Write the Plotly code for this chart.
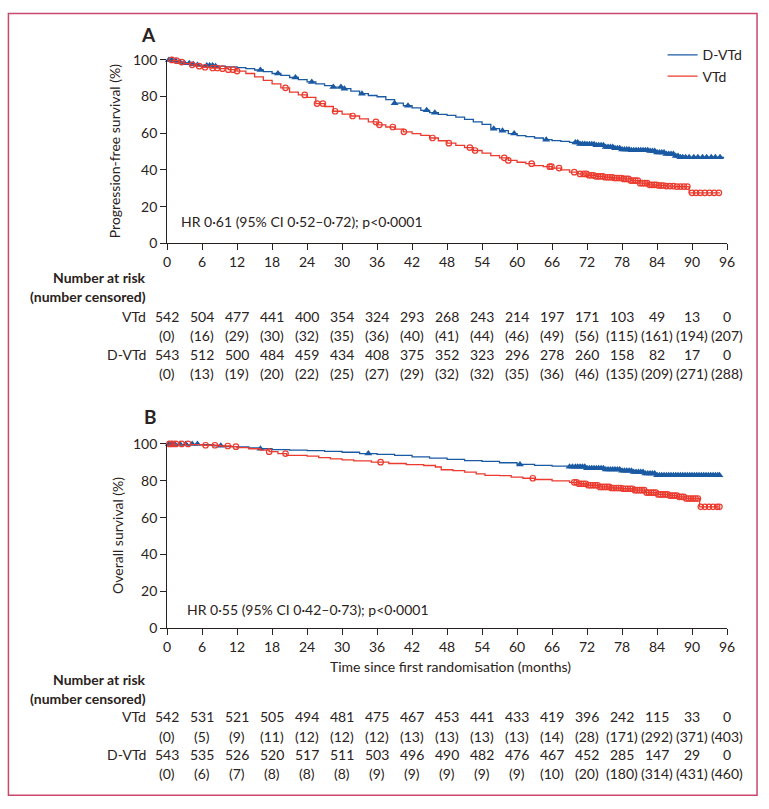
import numpy as np
import plotly.graph_objects as go

W, H = 769, 809
FONT = "Lato, Roboto, sans-serif"
TXT = "#2a2220"
BLUE = "#1a5aa3"
RED = "#ec3a2e"

ticks_x = [0, 6, 12, 18, 24, 30, 36, 42, 48, 54, 60, 66, 72, 78, 84, 90, 96]

# ---------------- Panel A: progression-free survival ----------------
pfs_dvtd_t = [0, 1, 2, 3, 4, 5, 6, 8, 10, 12, 13.5, 15, 16.5, 18, 19.5, 21, 22.5, 24, 25.5, 27, 28.5, 30,
              31.5, 33, 34.5, 36, 37.5, 39, 40.5, 42, 43.5, 45, 46.5, 48, 49.5, 51, 52.5, 54, 55.5, 57,
              58.5, 60, 61.5, 63, 64.5, 66, 67.5, 69, 70.5, 72, 73.5, 75, 76.5, 78, 79.5, 81, 82.5, 84,
              85.5, 87, 88, 95.5]
pfs_dvtd_s = [100, 99.4, 98.8, 98.2, 97.6, 97.2, 96.9, 96.6, 96.2, 95.8, 95.2, 94.5, 93.6, 92.6, 91.6, 90.4,
              89.2, 88.0, 86.9, 86.0, 85.2, 84.3, 83.0, 81.6, 80.6, 79.9, 78.3, 76.4, 75.0, 73.8, 72.5, 71.2,
              70.3, 69.8, 68.8, 67.6, 66.2, 64.8, 62.5, 61.4, 59.8, 58.7, 58.2, 57.4, 56.5, 56.0, 55.6, 55.0,
              54.2, 54.0, 53.4, 52.5, 51.8, 51.1, 50.8, 50.7, 50.3, 49.5, 48.7, 47.6, 46.9, 46.9]
pfs_dvtd_cens = [0.3, 0.8, 1.5, 2.2, 3, 3.8, 4.5, 5.2, 6.8, 7.3, 7.8, 8.3, 16, 19, 22, 24.8, 28.5, 29.8, 30.4,
                 33.4, 39, 41.3, 44.5, 45.9, 56, 57.5, 59.5, 65, 70.0, 70.4, 70.8, 71.2, 71.6, 72.0, 72.4,
                 72.8, 73.2, 73.6, 74.0, 74.4, 74.8, 75.2, 75.6, 76.0, 76.4, 76.8, 77.2, 77.6, 78.0, 78.4,
                 78.8, 79.2, 79.6, 80.0, 80.4, 80.8, 81.2, 81.6, 82.0, 82.4, 82.8, 83.2, 83.6, 84.0, 84.4,
                 84.8, 85.2, 85.6, 86.0, 86.4, 86.8, 87.2, 87.6, 88.0, 88.4, 88.9, 89.5, 90.3, 91.0, 91.8,
                 92.5, 93.3, 94.0, 94.8]

pfs_vtd_t = [0, 1, 2, 3, 4, 5, 6, 7.5, 9, 10.5, 12, 13.5, 15, 16.5, 18, 19.5, 21, 22.5, 24, 25.5, 27, 28.5,
             30, 31.5, 33, 34.5, 36, 37.5, 39, 40.5, 42, 43.5, 45, 46.5, 48, 49.5, 51, 52.5, 54, 55.5, 57,
             58.5, 60, 61.5, 63, 64.5, 66, 67.5, 69, 70.5, 72, 73.5, 75, 76.5, 78, 79.5, 81, 82.5, 84, 85.5,
             87, 89.5, 94.8]
pfs_vtd_s = [100, 99.6, 98.8, 98.0, 97.3, 96.6, 96.0, 95.6, 95.2, 94.7, 93.9, 92.6, 90.8, 88.8, 86.9, 84.8,
             82.4, 80.9, 79.6, 76.2, 74.6, 72.0, 70.4, 69.4, 67.8, 66.2, 64.6, 63.4, 62.2, 60.8, 59.8, 58.8,
             57.4, 55.9, 54.6, 53.4, 52.2, 50.6, 49.2, 47.8, 46.6, 45.2, 44.2, 43.4, 42.4, 41.8, 41.0, 40.0,
             38.8, 37.8, 37.1, 36.5, 36.0, 35.6, 35.1, 34.2, 32.8, 31.9, 31.5, 31.2, 30.9, 27.5, 27.5]
pfs_vtd_cens = [0.8, 1.6, 2.5, 4.3, 5.5, 6.5, 7.8, 8.6, 9.5, 10.5, 11.3, 12, 20.3, 23.6, 25.7, 26.7, 28.8,
                31.8, 35.8, 36.4, 38.7, 40.6, 45.5, 48.3, 51.9, 52.8, 57.8, 58.5, 62.5, 65.6, 65.9, 67.2,
                69.8, 70.8, 71.4, 71.9, 72.3, 72.7, 73.1, 73.5, 73.9, 74.3, 74.7, 75.1, 75.5, 75.9, 76.3,
                76.7, 77.1, 77.5, 77.9, 78.3, 78.7, 79.1, 79.5, 79.9, 80.3, 80.7, 81.1, 81.5, 81.9, 82.3,
                82.7, 83.1, 83.5, 83.9, 84.3, 84.7, 85.1, 85.6, 86.2, 86.8, 87.4, 88.0, 88.6, 89.2, 90.0,
                90.7, 91.4, 92.2, 93.0, 93.8, 94.6]

# ---------------- Panel B: overall survival ----------------
os_dvtd_t = [0, 6, 8, 10, 12, 14, 16, 18, 21, 24, 27, 30, 33, 36, 39, 42, 45, 48, 51, 54, 57, 60, 63, 66,
             69, 72, 75, 78, 80, 82, 84, 94.7]
os_dvtd_s = [100, 99.6, 99.0, 98.6, 98.4, 97.8, 97.4, 96.9, 96.6, 96.4, 96.0, 95.5, 94.8, 94.3, 93.8, 93.0,
             92.3, 91.6, 91.0, 90.5, 89.8, 88.9, 88.4, 88.0, 87.6, 86.8, 86.1, 85.4, 84.8, 83.9, 83.0, 83.0]
os_dvtd_cens = [0.3, 0.8, 1.3, 2.2, 3.2, 4.3, 5.2, 9.2, 16, 34.5, 60.5, 69.0, 69.5, 70.0, 70.4, 70.8, 71.2,
                71.6, 72.0, 72.4, 72.8, 73.2, 73.6, 74.0, 74.4, 74.8, 75.2, 75.6, 76.0, 76.4, 76.8, 77.2,
                77.6, 78.0, 78.4, 78.8, 79.2, 79.6, 80.0, 80.4, 80.8, 81.2, 81.6, 82.0, 82.4, 82.8, 83.2,
                83.6, 84.0, 84.4, 84.8, 85.2, 85.6, 86.0, 86.4, 86.8, 87.2, 87.6, 88.0, 88.4, 88.8, 89.2,
                89.6, 90.0, 90.4, 90.8, 91.2, 91.6, 92.0, 92.4, 92.8, 93.2, 93.6, 94.0, 94.4, 94.7]

os_vtd_t = [0, 4, 6, 9, 11, 12, 14, 16, 17.5, 19, 20.5, 24, 26, 28, 30, 32, 35, 38, 41, 44, 46, 47, 49, 51,
            53, 54.5, 57, 59, 61, 63, 66, 69, 70.5, 72, 74, 76, 78, 80, 82, 84, 86, 87.5, 89, 91.3, 94.7]
os_vtd_s = [100, 99.6, 99.3, 98.9, 98.5, 98.0, 97.4, 96.6, 95.8, 94.8, 93.8, 93.4, 92.6, 91.9, 91.4, 90.8,
            90.1, 89.4, 88.8, 88.3, 87.5, 86.0, 85.5, 84.7, 83.8, 83.0, 82.8, 82.0, 81.4, 80.7, 80.0, 79.2,
            78.4, 77.6, 76.7, 76.1, 75.7, 74.9, 73.6, 72.6, 72.0, 71.3, 70.4, 65.9, 65.9]
os_vtd_cens = [0.4, 0.9, 1.5, 2.5, 3.6, 6.6, 8.2, 10.4, 11.8, 17.5, 20.3, 36.6, 62.7, 69.8, 70.2, 70.6, 71.0,
               71.4, 71.8, 72.2, 72.6, 73.0, 73.4, 73.8, 74.2, 74.6, 75.0, 75.4, 75.8, 76.2, 76.6, 77.0,
               77.4, 77.8, 78.2, 78.6, 79.0, 79.4, 79.8, 80.2, 80.6, 81.0, 81.4, 81.8, 82.2, 82.6, 83.0,
               83.4, 83.8, 84.2, 84.6, 85.0, 85.4, 85.8, 86.2, 86.6, 87.0, 87.4, 87.8, 88.2, 88.6, 89.0,
               89.4, 89.8, 90.2, 90.6, 91.0, 91.5, 92.2, 92.9, 93.6, 94.3, 94.7]

# ---------------- Number at risk tables ----------------
risk_A_vtd = ["542", "504", "477", "441", "400", "354", "324", "293", "268", "243", "214", "197", "171", "103", "49", "13", "0"]
cens_A_vtd = ["(0)", "(16)", "(29)", "(30)", "(32)", "(35)", "(36)", "(40)", "(41)", "(44)", "(46)", "(49)", "(56)", "(115)", "(161)", "(194)", "(207)"]
risk_A_dvtd = ["543", "512", "500", "484", "459", "434", "408", "375", "352", "323", "296", "278", "260", "158", "82", "17", "0"]
cens_A_dvtd = ["(0)", "(13)", "(19)", "(20)", "(22)", "(25)", "(27)", "(29)", "(32)", "(32)", "(35)", "(36)", "(46)", "(135)", "(209)", "(271)", "(288)"]

risk_B_vtd = ["542", "531", "521", "505", "494", "481", "475", "467", "453", "441", "433", "419", "396", "242", "115", "33", "0"]
cens_B_vtd = ["(0)", "(5)", "(9)", "(11)", "(12)", "(12)", "(12)", "(13)", "(13)", "(13)", "(13)", "(14)", "(28)", "(171)", "(292)", "(371)", "(403)"]
risk_B_dvtd = ["543", "535", "526", "520", "517", "511", "503", "496", "490", "482", "476", "467", "452", "285", "147", "29", "0"]
cens_B_dvtd = ["(0)", "(6)", "(7)", "(8)", "(8)", "(8)", "(9)", "(9)", "(9)", "(9)", "(9)", "(10)", "(20)", "(180)", "(314)", "(431)", "(460)"]


def step_at(times, surv, pts):
    t = np.asarray(times, float)
    s = np.asarray(surv, float)
    idx = np.searchsorted(t, np.asarray(pts, float), side="right") - 1
    return s[np.clip(idx, 0, len(s) - 1)]


def py(p):
    return 1 - p / H


def px(p):
    return p / W


fig = go.Figure()

def add_curve(t, s, cens, color, name, xa, ya, legend, symbol):
    fig.add_trace(go.Scatter(x=t, y=s, mode="lines", line=dict(color=color, width=1.3, shape="hv"),
                             name=name, showlegend=legend, xaxis=xa, yaxis=ya, cliponaxis=False))
    if symbol == "tri":
        mk = dict(symbol="triangle-up", size=7, color=color, line=dict(width=0))
    else:
        mk = dict(symbol="circle-open", size=5.5, color=color, line=dict(width=1.2, color=color))
    fig.add_trace(go.Scatter(x=cens, y=step_at(t, s, cens), mode="markers", marker=mk,
                             showlegend=False, xaxis=xa, yaxis=ya, cliponaxis=False, hoverinfo="skip"))

add_curve(pfs_dvtd_t, pfs_dvtd_s, pfs_dvtd_cens, BLUE, "D-VTd", "x", "y", True, "tri")
add_curve(pfs_vtd_t, pfs_vtd_s, pfs_vtd_cens, RED, "VTd", "x", "y", True, "circ")
add_curve(os_dvtd_t, os_dvtd_s, os_dvtd_cens, BLUE, "D-VTd", "x2", "y2", False, "tri")
add_curve(os_vtd_t, os_vtd_s, os_vtd_cens, RED, "VTd", "x2", "y2", False, "circ")

xdom = [px(165.7), px(734.5)]
axis_common = dict(showgrid=False, zeroline=False, showline=True, linecolor=TXT, linewidth=1,
                   ticks="outside", ticklen=6, tickwidth=1, tickcolor=TXT,
                   tickfont=dict(family=FONT, size=14, color=TXT))
fig.update_layout(
    width=W, height=H, margin=dict(l=0, r=0, t=0, b=0),
    paper_bgcolor="white", plot_bgcolor="white",
    font=dict(family=FONT, color=TXT, size=13),
    xaxis=dict(domain=xdom, range=[0, 96], tickvals=ticks_x, anchor="y", **axis_common),
    yaxis=dict(domain=[py(239.3), py(52)], range=[0, 100], tickvals=[0, 20, 40, 60, 80, 100], anchor="x", **axis_common),
    xaxis2=dict(domain=xdom, range=[0, 96], tickvals=ticks_x, anchor="y2", **axis_common),
    yaxis2=dict(domain=[py(632.5), py(444.3)], range=[0, 100], tickvals=[0, 20, 40, 60, 80, 100], anchor="x2", **axis_common),
    legend=dict(x=px(669), y=py(31), xanchor="left", yanchor="top", bgcolor="rgba(0,0,0,0)",
                font=dict(family=FONT, size=14, color=TXT), itemwidth=30, tracegroupgap=0),
    showlegend=True,
)

ann = []
def txt(x, y, s, size=13, bold=False, xanchor="center", angle=0, xref="paper"):
    ann.append(dict(x=x, y=y, xref=xref, yref="paper", text=("<b>%s</b>" % s) if bold else s,
                    showarrow=False, xanchor=xanchor, yanchor="middle", textangle=angle,
                    font=dict(family=FONT, size=size, color=TXT)))

txt(px(147), py(26), "A", size=19, bold=True)
txt(px(149), py(416), "B", size=19, bold=True)
txt(px(178), py(217), "HR 0·61 (95% CI 0·52–0·72); p<0·0001", size=14, xanchor="left")
txt(px(184), py(613), "HR 0·55 (95% CI 0·42–0·73); p<0·0001", size=14, xanchor="left")
txt(px(113), py(145), "Progression-free survival (%)", size=14, angle=-90)
txt(px(115), py(538), "Overall survival (%)", size=14, angle=-90)
txt(px(454), py(672), "Time since first randomisation (months)", size=14)

def risk_block(rows_y, xref, vtd, cvtd, dvtd, cdvtd):
    txt(px(146), py(rows_y[0]), "Number at risk", size=14, bold=True, xanchor="right")
    txt(px(146), py(rows_y[1]), "(number censored)", size=14, bold=True, xanchor="right")
    txt(px(146), py(rows_y[2]), "VTd", size=14, xanchor="right")
    txt(px(146), py(rows_y[4]), "D-VTd", size=14, xanchor="right")
    for i, t in enumerate(ticks_x):
        txt(t, py(rows_y[2]), vtd[i], size=14, xref=xref)
        txt(t, py(rows_y[3]), cvtd[i], size=14, xref=xref)
        txt(t, py(rows_y[4]), dvtd[i], size=14, xref=xref)
        txt(t, py(rows_y[5]), cdvtd[i], size=14, xref=xref)

risk_block([274, 294, 314, 333, 353, 372], "x", risk_A_vtd, cens_A_vtd, risk_A_dvtd, cens_A_dvtd)
risk_block([685, 704, 723, 743, 762, 781], "x2", risk_B_vtd, cens_B_vtd, risk_B_dvtd, cens_B_dvtd)

fig.update_layout(annotations=ann)
fig.add_shape(type="rect", xref="paper", yref="paper", x0=px(4.5), x1=px(765), y0=py(803), y1=py(4.5),
              line=dict(color="#c9476b", width=1.5), fillcolor="rgba(0,0,0,0)", layer="above")

fig.write_html("out.html")
